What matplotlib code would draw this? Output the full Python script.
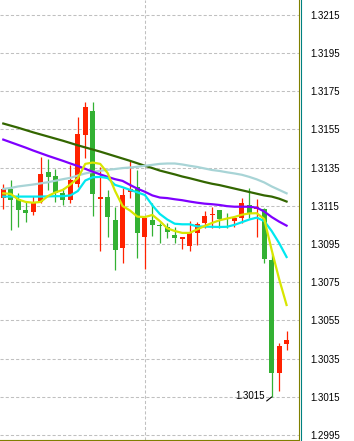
import numpy as np
import matplotlib.pyplot as plt
from matplotlib.lines import Line2D

plt.rcParams['font.family'] = ['Liberation Sans', 'DejaVu Sans']

# candle data, one entry per bar
opens = [1.31192, 1.31238, 1.31186, 1.31128, 1.31118, 1.31170, 1.31327, 1.31306, 1.31217, 1.31180,
         1.31264, 1.31520, 1.31646, 1.31184, 1.31196, 1.31076, 1.30931, 1.31224, 1.31247, 1.30988,
         1.31076, 1.31048, 1.31038, 1.30997, 1.30975, 1.30941, 1.31009, 1.31062, 1.31103, 1.31128,
         1.31077, 1.31072, 1.31088, 1.31154, 1.31135, 1.31132, 1.30867, 1.30274, 1.30426]
highs = [1.31264, 1.31285, 1.31217, 1.31175, 1.31201, 1.31405, 1.31395, 1.31342, 1.31243, 1.31363,
         1.31616, 1.31694, 1.31694, 1.31353, 1.31233, 1.31144, 1.31243, 1.31389, 1.31337, 1.31088,
         1.31165, 1.31062, 1.31060, 1.31038, 1.30988, 1.31072, 1.31064, 1.31123, 1.31145, 1.31128,
         1.31114, 1.31097, 1.31189, 1.31241, 1.31184, 1.31136, 1.30903, 1.30434, 1.30497]
lows = [1.31133, 1.31023, 1.31039, 1.31065, 1.31102, 1.31165, 1.31233, 1.31170, 1.31154, 1.31166,
        1.31250, 1.31400, 1.31097, 1.30915, 1.30988, 1.30814, 1.30852, 1.31189, 1.30875, 1.30820,
        1.30994, 1.30954, 1.30980, 1.30954, 1.30924, 1.30915, 1.30945, 1.31032, 1.31034, 1.31035,
        1.31035, 1.31038, 1.31058, 1.31085, 1.30985, 1.30849, 1.30150, 1.30183, 1.30396]
closes = [1.31238, 1.31180, 1.31128, 1.31112, 1.31165, 1.31316, 1.31301, 1.31217, 1.31180, 1.31285,
          1.31525, 1.31668, 1.31212, 1.31198, 1.31093, 1.30919, 1.31206, 1.31238, 1.31006, 1.31088,
          1.31051, 1.31044, 1.31015, 1.30983, 1.30985, 1.31006, 1.31055, 1.31097, 1.31107, 1.31081,
          1.31074, 1.31088, 1.31166, 1.31109, 1.31142, 1.30872, 1.30274, 1.30417, 1.30448]

# moving averages at each bar
ma_dark = [1.31580, 1.31569, 1.31558, 1.31546, 1.31534, 1.31523, 1.31512, 1.31501, 1.31490, 1.31478,
           1.31466, 1.31455, 1.31444, 1.31433, 1.31421, 1.31409, 1.31397, 1.31385, 1.31372, 1.31359,
           1.31347, 1.31334, 1.31324, 1.31314, 1.31303, 1.31294, 1.31284, 1.31274, 1.31265, 1.31258,
           1.31249, 1.31240, 1.31231, 1.31222, 1.31213, 1.31204, 1.31198, 1.31187, 1.31172]
ma_purple = [1.31496, 1.31482, 1.31468, 1.31454, 1.31439, 1.31425, 1.31411, 1.31398, 1.31385, 1.31371,
             1.31358, 1.31343, 1.31328, 1.31314, 1.31301, 1.31289, 1.31280, 1.31259, 1.31239, 1.31223,
             1.31204, 1.31193, 1.31190, 1.31184, 1.31179, 1.31172, 1.31166, 1.31161, 1.31158, 1.31154,
             1.31148, 1.31145, 1.31145, 1.31145, 1.31140, 1.31120, 1.31091, 1.31067, 1.31046]
ma_light = [1.31238, 1.31243, 1.31251, 1.31256, 1.31261, 1.31267, 1.31273, 1.31281, 1.31289, 1.31296,
            1.31308, 1.31319, 1.31327, 1.31333, 1.31338, 1.31342, 1.31347, 1.31350, 1.31354, 1.31359,
            1.31364, 1.31369, 1.31371, 1.31371, 1.31366, 1.31359, 1.31353, 1.31345, 1.31337, 1.31332,
            1.31325, 1.31319, 1.31312, 1.31301, 1.31288, 1.31272, 1.31251, 1.31233, 1.31215]
ma_cyan = [1.31198, 1.31198, 1.31198, 1.31198, 1.31198, 1.31198, 1.31199, 1.31200, 1.31200, 1.31204,
           1.31227, 1.31282, 1.31299, 1.31301, 1.31295, 1.31259, 1.31247, 1.31233, 1.31220, 1.31206,
           1.31152, 1.31107, 1.31078, 1.31056, 1.31053, 1.31053, 1.31042, 1.31041, 1.31040, 1.31039,
           1.31040, 1.31050, 1.31064, 1.31078, 1.31088, 1.31070, 1.31018, 1.30955, 1.30882]
ma_yellow = [1.31215, 1.31212, 1.31183, 1.31170, 1.31166, 1.31170, 1.31201, 1.31220, 1.31233, 1.31261,
             1.31294, 1.31369, 1.31376, 1.31369, 1.31321, 1.31227, 1.31149, 1.31125, 1.31093, 1.31091,
             1.31102, 1.31070, 1.31032, 1.31018, 1.31008, 1.31008, 1.31026, 1.31044, 1.31060, 1.31074,
             1.31083, 1.31091, 1.31103, 1.31110, 1.31111, 1.31081, 1.30919, 1.30767, 1.30631]

price_levels = [1.2995, 1.3015, 1.3035, 1.3055, 1.3075, 1.3095, 1.3115,
                1.3135, 1.3155, 1.3175, 1.3195, 1.3215]
low_label = '1.3015'
vgrid_bar = 19

o = np.array(opens)
h = np.array(highs)
l = np.array(lows)
c = np.array(closes)
x = np.arange(len(o))

RED = '#ff2200'
GREEN = '#33b133'
GRID = '#c0c0c0'

fig = plt.figure(figsize=(3.54, 4.41), dpi=100)
ax = fig.add_axes([0, 1 / 441, 298.5 / 354, 440 / 441])

# grid
for lv in price_levels:
    ax.axhline(lv, color=GRID, lw=0.75, ls=(0, (3, 2)), zorder=0)
ax.axvline(vgrid_bar, color=GRID, lw=0.75, ls=(0, (3, 2)), zorder=0)

# candles: red = up, green = down
colors = np.where(c >= o, RED, GREEN)
ax.vlines(x, l, h, colors=colors, lw=0.9, zorder=2)
ax.bar(x, np.maximum(np.abs(c - o), 0.00004), bottom=np.minimum(o, c),
       width=0.67, color=colors, lw=0, zorder=3)

# moving averages
ax.plot(x, ma_dark, color='#336600', lw=1.6, zorder=4)
ax.plot(x, ma_light, color='#a8d4d6', lw=1.6, zorder=4)
ax.plot(x, ma_purple, color='#7f00ff', lw=1.6, zorder=4)
ax.plot(x, ma_cyan, color='#00e8f0', lw=1.6, zorder=5)
ax.plot(x, ma_yellow, color='#d8e600', lw=1.6, zorder=5)

# low marker
ilow = int(np.argmin(l))
ax.annotate('', xy=(ilow, l[ilow]), xytext=(-5, -4), textcoords='offset pixels',
            arrowprops=dict(arrowstyle='-', color='black', lw=0.8, shrinkA=0, shrinkB=0))
ax.annotate(low_label, xy=(ilow, l[ilow]), xytext=(-7, 1), textcoords='offset pixels',
            ha='right', va='center', fontsize=7, color='black')

ax.set_xlim(-0.44, 39.6)
ax.set_ylim(1.29925, 1.32226)
ax.set_xticks([])
ax.yaxis.tick_right()
ax.set_yticks(price_levels)
ax.set_yticklabels([f'{v:.4f}' for v in price_levels])
ax.tick_params(axis='y', length=0, pad=8.6, labelsize=7, labelcolor='black')

for s in ['top', 'left']:
    ax.spines[s].set_visible(False)
for s in ['right', 'bottom']:
    ax.spines[s].set_color('#808000')
    ax.spines[s].set_linewidth(0.8)

fig.add_artist(Line2D([300.5 / 354] * 2, [0, 1], transform=fig.transFigure,
                      color='#008080', lw=0.8))

fig.savefig('out.png', dpi=100)
